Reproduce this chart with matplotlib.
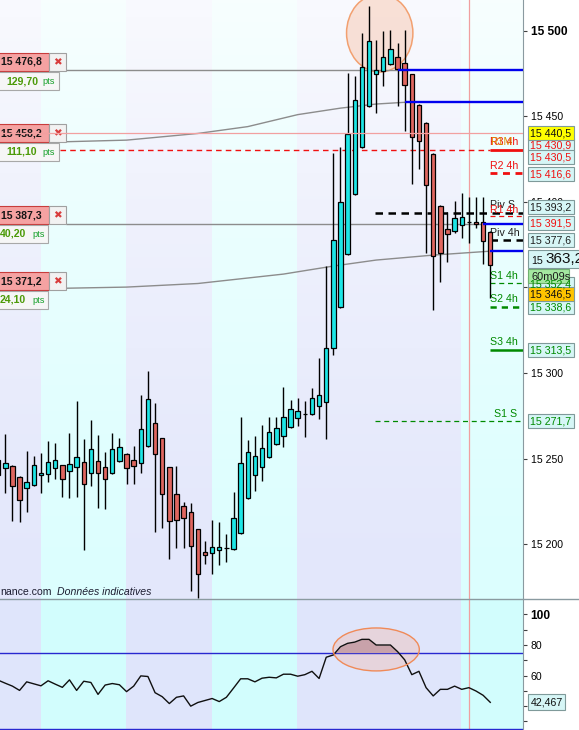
import matplotlib
matplotlib.use("Agg")
import matplotlib.pyplot as plt
import numpy as np
from matplotlib.lines import Line2D
from matplotlib.patches import Ellipse, Rectangle

plt.rcParams["font.family"] = ["Liberation Sans", "DejaVu Sans"]

W, H = 579, 730

# candles, index -1 .. 68
idx = np.arange(-1, 69)
opens = [15249.1, 15244.4, 15245.6, 15239.2, 15232.7, 15234.5, 15240.3, 15240.9, 15244.4, 15246.2,
         15242.7, 15245.0, 15247.9, 15241.5, 15248.5, 15245.0, 15241.5, 15248.5, 15252.6, 15249.1,
         15247.3, 15257.3, 15270.7, 15262.0, 15245.0, 15229.2, 15222.2, 15218.7, 15208.8, 15195.3,
         15194.7, 15196.5, 15197.7, 15197.1, 15206.4, 15226.9, 15240.3, 15245.0, 15250.9, 15258.5,
         15263.1, 15268.4, 15273.6, 15276.0, 15276.0, 15280.7, 15283.0, 15314.6, 15338.5, 15369.5,
         15404.6, 15432.0, 15456.0, 15474.7, 15476.5, 15480.6, 15484.7, 15481.1, 15474.7, 15456.6,
         15446.1, 15428.0, 15397.6, 15384.1, 15382.9, 15386.5, 15388.2, 15388.2, 15388.2, 15382.4]
highs = [15251.4, 15264.3, 15246.0, 15239.5, 15254.4, 15251.4, 15253.2, 15260.2, 15259.0, 15246.5,
         15264.9, 15283.6, 15261.4, 15272.5, 15263.7, 15253.8, 15264.9, 15262.0, 15253.0, 15257.3,
         15287.1, 15301.1, 15282.4, 15262.0, 15245.0, 15245.6, 15224.5, 15224.0, 15209.0, 15201.8,
         15214.0, 15212.9, 15205.8, 15230.4, 15274.2, 15260.8, 15263.1, 15269.6, 15274.2, 15274.2,
         15291.8, 15284.2, 15285.3, 15283.6, 15291.2, 15308.7, 15362.5, 15428.5, 15432.0, 15475.3,
         15473.5, 15498.7, 15514.5, 15494.6, 15499.8, 15500.4, 15492.8, 15500.4, 15475.0, 15457.0,
         15446.5, 15428.5, 15398.0, 15394.1, 15400.5, 15405.2, 15402.8, 15402.8, 15402.8, 15383.0]
lows = [15236.8, 15229.8, 15213.4, 15212.9, 15218.7, 15234.0, 15229.8, 15236.2, 15238.0, 15227.5,
        15226.9, 15227.5, 15196.5, 15233.9, 15221.0, 15220.5, 15241.0, 15248.0, 15235.1, 15235.1,
        15241.5, 15257.0, 15207.0, 15209.4, 15191.2, 15197.7, 15197.7, 15172.5, 15168.4, 15188.3,
        15182.5, 15187.7, 15189.5, 15196.8, 15206.0, 15226.5, 15231.0, 15236.8, 15250.5, 15258.0,
        15256.7, 15268.0, 15269.0, 15262.5, 15275.5, 15273.1, 15261.4, 15310.5, 15338.0, 15369.0,
        15404.0, 15431.5, 15455.5, 15451.9, 15467.7, 15480.0, 15456.0, 15441.4, 15410.4, 15419.2,
        15370.1, 15336.8, 15353.1, 15364.8, 15381.8, 15378.9, 15375.9, 15385.0, 15363.7, 15344.0]
closes = [15240.3, 15247.3, 15233.9, 15225.7, 15236.2, 15246.2, 15241.5, 15247.9, 15249.1, 15238.0,
          15246.8, 15250.9, 15235.1, 15255.5, 15241.5, 15238.0, 15255.5, 15256.7, 15244.4, 15245.6,
          15267.2, 15284.8, 15252.6, 15229.2, 15213.4, 15214.0, 15215.2, 15198.8, 15182.5, 15193.6,
          15198.2, 15198.2, 15197.7, 15215.2, 15247.3, 15253.8, 15251.4, 15256.1, 15265.5, 15267.8,
          15274.2, 15278.9, 15277.7, 15276.0, 15285.3, 15287.1, 15314.6, 15377.7, 15399.9, 15439.6,
          15459.5, 15478.8, 15494.0, 15477.1, 15484.7, 15489.3, 15477.6, 15468.3, 15437.9, 15435.6,
          15409.8, 15368.3, 15370.1, 15381.2, 15390.5, 15391.1, 15388.2, 15387.0, 15377.1, 15363.1]

# oscillator, same indices
osc = [57.0, 55.0, 53.1, 50.3, 55.9, 54.6, 53.3, 56.6, 54.4, 52.3, 57.2, 50.3, 56.3, 55.5, 47.7,
       53.8, 54.8, 54.0, 49.5, 53.1, 59.8, 59.4, 48.8, 46.2, 41.7, 45.8, 46.7, 40.0, 42.4, 43.7,
       45.0, 43.0, 45.8, 51.8, 57.9, 57.9, 55.9, 58.3, 58.9, 58.5, 60.9, 60.9, 59.6, 60.6, 62.8,
       58.1, 72.0, 73.5, 78.9, 81.1, 81.9, 83.7, 83.7, 80.0, 80.0, 80.0, 75.7, 70.3, 60.6, 62.8,
       52.1, 46.7, 51.0, 51.0, 53.1, 51.0, 52.1, 49.9, 47.1, 42.5]

# moving averages (gray curves)
ma_up_idx = [-1, 8, 17, 27, 34, 41, 47, 52, 56]
ma_up = [15434.6, 15435.1, 15436.1, 15440.0, 15444.0, 15451.0, 15454.8, 15457.2, 15458.2]
ma_lo_idx = [-1, 8, 17, 27, 39, 46, 52, 60, 68]
ma_lo = [15349.0, 15349.5, 15350.2, 15352.3, 15357.8, 15362.5, 15366.0, 15368.9, 15371.2]

# measured levels (left labels) and the candle where the blue segment starts
lvl_values = [15476.8, 15458.2, 15387.3, 15371.2]
lvl_text = ["15 476,8", "15 458,2", "15 387,3", "15 371,2"]
lvl_pts = ["129,70", "111,10", "40,20", "24,10"]
lvl_start = [55, 56, 67, 68]

# pivot levels
piv_names = ["R3 4h", "R2 4h", "Piv S", "R1 4h", "Piv 4h", "S1 4h", "S2 4h", "S3 4h", "S1 S"]
piv_values = [15430.5, 15416.6, 15393.5, 15391.5, 15377.6, 15352.4, 15338.6, 15313.5, 15271.7]

price_ticks = [15200, 15250, 15300, 15350, 15400, 15450, 15500]
last_price = 15440.5
osc_last = 42.467

UP, DOWN = "#1de6e6", "#e0665f"
LAV, CYA = "#e3e7fb", "#dcfefe"
GREEN, RED = "#008a00", "#f01010"

fig = plt.figure(figsize=(W / 100, H / 100), dpi=100)
ax = fig.add_axes([0, 131 / H, 523 / W, 599 / H])
axo = fig.add_axes([0, 0, 523 / W, 131 / H])
X0, X1 = -0.743, 72.59
P0, P1 = 15167.9, 15518.0
O0, O1 = 24.4, 110.1

# background bands
edges = [X0, 5.0, 16.9, 29.0, 40.9, 63.9, X1]
for i in range(len(edges) - 1):
    ax.axvspan(edges[i], edges[i + 1], color=LAV if i % 2 == 0 else CYA, lw=0, zorder=0)
    axo.axvspan(edges[i], edges[i + 1], color="#dfe5fb" if i % 2 == 0 else "#d2fdfd", lw=0, zorder=0)
g = np.linspace(0, 1, 256)[:, None]
img = np.ones((256, 1, 4))
img[..., 3] = 0.78 * (1 - g[:, 0:1]) ** 1.3
ax.imshow(img, extent=(X0, X1, P0, P1), aspect="auto", origin="upper", zorder=0.5,
          interpolation="bilinear")

# highlight circles
ax.add_patch(Ellipse((52.5, 15498.7), 9.3, 45.6, facecolor="#f8c8b0", alpha=0.5,
                     edgecolor="none", zorder=1))
ax.add_patch(Ellipse((52.5, 15498.7), 9.3, 45.6, facecolor="none", edgecolor="#f2a070",
                     lw=1.1, zorder=1.1))

# gray lines / curves
ax.plot(ma_up_idx, ma_up, color="#8c8c8c", lw=1.0, zorder=2)
ax.plot(ma_lo_idx, ma_lo, color="#8c8c8c", lw=1.0, zorder=2)
ax.hlines(lvl_values[0], 8.5, lvl_start[0], color="#8c8c8c", lw=1.0, zorder=2)
ax.hlines(lvl_values[2], 8.5, lvl_start[2], color="#8c8c8c", lw=1.0, zorder=2)

# pivot lines
ax.hlines(piv_values[0], 7.7, 68, color=RED, lw=1.0, ls=(0, (4, 3)), zorder=2)
ax.hlines(piv_values[0], 68, X1, color=RED, lw=2.0, zorder=2)
ax.hlines(piv_values[1], 68, X1, color=RED, lw=2.0, ls=(0, (2.5, 2)), zorder=2)
ax.hlines(piv_values[2], 51.8, X1, color="black", lw=1.8, ls=(0, (3, 2.2)), zorder=2)
ax.hlines(piv_values[3], 68, X1, color=RED, lw=0.9, ls=(0, (4, 3)), zorder=2)
ax.hlines(piv_values[4], 68, X1, color="black", lw=1.8, ls=(0, (3, 2.2)), zorder=2)
ax.hlines(piv_values[5], 68, X1, color=GREEN, lw=0.9, ls=(0, (4, 3)), zorder=2)
ax.hlines(piv_values[6], 68, X1, color=GREEN, lw=1.8, ls=(0, (2.5, 2)), zorder=2)
ax.hlines(piv_values[7], 68, X1, color=GREEN, lw=1.8, zorder=2)
ax.hlines(piv_values[8], 51.8, X1, color=GREEN, lw=0.9, ls=(0, (4, 3)), zorder=2)

tk = dict(fontsize=7.7, zorder=3)
ax.text(68, piv_values[0] + 1.5, "R3 4h", color=RED, va="bottom", **tk)
ax.text(68, piv_values[0] + 1.5, "R1M", color="#e08a00", va="bottom", fontsize=7.7, zorder=3)
ax.text(68, piv_values[1] + 1.5, "R2 4h", color=RED, va="bottom", **tk)
ax.text(68, piv_values[2] + 1.5, "Piv S", color="#202020", va="bottom", **tk)
ax.text(68, piv_values[3] + 1.0, "R1 4h", color=RED, va="bottom", **tk)
ax.text(68, piv_values[4] + 1.5, "Piv 4h", color="#202020", va="bottom", **tk)
ax.text(68, piv_values[5] + 1.5, "S1 4h", color=GREEN, va="bottom", **tk)
ax.text(68, piv_values[6] + 1.5, "S2 4h", color=GREEN, va="bottom", **tk)
ax.text(68, piv_values[7] + 1.5, "S3 4h", color=GREEN, va="bottom", **tk)
ax.text(71.75, piv_values[8] + 1.5, "S1 S", color=GREEN, va="bottom", ha="right", **tk)

# candles
o = np.array(opens)
c = np.array(closes)
ax.vlines(idx, lows, highs, color="black", lw=1.0, zorder=3)
cols = [UP if cc >= oo else DOWN for oo, cc in zip(o, c)]
ax.bar(idx, np.abs(c - o), bottom=np.minimum(o, c), width=0.62, color=cols,
       edgecolor="black", linewidth=0.9, zorder=4)

# blue measurement segments
for v, s in zip(lvl_values, lvl_start):
    ax.hlines(v, s, X1, color="#0000ee", lw=1.7, zorder=5)

# crosshair
ax.axhline(last_price, color="#f2a0a0", lw=0.9, zorder=6)
ax.axvline(65, color="#f0a0a0", lw=0.9, zorder=1.2)
axo.axvline(65, color="#f0a0a0", lw=0.9, zorder=1.2)

ax.text(0, 0.012, "nance.com", transform=ax.transAxes, fontsize=7.6, color="#1c1c30",
        va="center", zorder=3)
ax.text(57 / 523, 0.012, "Données indicatives", transform=ax.transAxes, fontsize=7.6,
        style="italic", color="#1c1c30", va="center", zorder=3)

ax.set_xlim(X0, X1)
ax.set_ylim(P0, P1)
ax.set_xticks([])
ax.yaxis.tick_right()
ax.set_yticks(price_ticks)
ax.set_yticklabels([f"{p // 1000} {p % 1000:03d}" for p in price_ticks])
ax.tick_params(axis="y", direction="out", length=3, width=0.8, color="#404040",
               labelsize=7.6, pad=2.5)
ax.get_yticklabels()[-1].set_fontweight("bold")
ax.get_yticklabels()[-1].set_fontsize(8.6)
for s in ["top", "left", "bottom"]:
    ax.spines[s].set_visible(False)
ax.spines["right"].set_color("#8a9aa0")

# oscillator panel
axo.add_patch(Ellipse((52.0, 77.1), 12.1, 28.1, facecolor="#f0c0b8", alpha=0.45,
                      edgecolor="none", zorder=1))
axo.add_patch(Ellipse((52.0, 77.1), 12.1, 28.1, facecolor="none", edgecolor="#f08a58",
                      lw=1.0, zorder=3.5))
axo.axhline(75, color="#2828d0", lw=1.0, zorder=2)
axo.axhline(25, color="#2828d0", lw=1.0, zorder=2)
oa = np.array(osc)
axo.fill_between(idx, oa, 75, where=oa > 75, interpolate=True, color="#c8a2aa", lw=0, zorder=2.5)
axo.plot(idx, osc, color="#101010", lw=1.0, zorder=3)
axo.set_xlim(X0, X1)
axo.set_ylim(O0, O1)
axo.set_xticks([])
axo.yaxis.tick_right()
axo.set_yticks([40, 60, 80, 100])
axo.set_yticklabels(["40", "60", "80", "100"])
axo.set_yticks([30, 50, 70, 90], minor=True)
axo.tick_params(axis="y", which="both", direction="out", length=3, width=0.8, color="#404040",
                labelsize=7.6, pad=2.5)
axo.get_yticklabels()[-1].set_fontweight("bold")
axo.get_yticklabels()[-1].set_fontsize(8.6)
for s in ["top", "left", "bottom"]:
    axo.spines[s].set_visible(False)
axo.spines["right"].set_color("#8a9aa0")

fig.add_artist(Line2D([0, 1], [131 / H, 131 / H], color="#8a9aa0", lw=1.0))


# ---- label boxes in pixel coordinates ----
def rect(a, x0, y0, x1, y1, fc, ec, lw=0.8, z=10):
    a.add_patch(Rectangle((x0 / W, 1 - y1 / H), (x1 - x0) / W, (y1 - y0) / H,
                          transform=fig.transFigure, facecolor=fc, edgecolor=ec,
                          linewidth=lw, zorder=z, clip_on=False))


def ptext(a, x, y, s, z=11, **kw):
    a.text(x / W, 1 - y / H, s, transform=fig.transFigure, zorder=z, clip_on=False,
           va="center", **kw)


# left measurement labels
box_y = [62, 133, 215, 281]
pts_right = [59, 59, 48, 48]
pts_x = [6, 6, 0, 0]
pts_unit_x = [42, 42, 32, 32]
for t, p, cy, pr, px_, ux in zip(lvl_text, lvl_pts, box_y, pts_right, pts_x, pts_unit_x):
    rect(ax, -2, cy - 9, 49, cy + 9, "#f5a2a2", "#c83c3c")
    rect(ax, 49, cy - 9, 66, cy + 9, "#f2f2f2", "#a0a0a0")
    ptext(ax, 1, cy, t, fontsize=7.6, fontweight="bold", color="#151515")
    ptext(ax, 57.5, cy, "✖", fontsize=7.5, color="#d83c3c", ha="center")
    rect(ax, -2, cy + 10, pr, cy + 28, "#f6f6f6", "#a8a8a8")
    ptext(ax, px_, cy + 19, p, fontsize=7.6, fontweight="bold", color="#4c9a08")
    ptext(ax, ux, cy + 19.5, "pts", fontsize=6.6, color="#16a02a")

# the crosshair crosses the left label
ax.add_line(Line2D([0, 66 / W], [1 - 133 / H, 1 - 133 / H], transform=fig.transFigure,
                   color="#f2a0a0", lw=0.9, zorder=12, clip_on=False))

LC = "#d6f6f6"
right_labels = [
    ("15 430,9", 145, LC, RED),
    ("15 440,5", 133, "#ffff00", "#101010"),
    ("15 430,5", 157, LC, RED),
    ("15 416,6", 174, LC, RED),
    ("15 393,2", 207, LC, "#202020"),
    ("15 391,5", 223, LC, RED),
    ("15 377,6", 240, LC, "#202020"),
    ("15 352,4", 284, LC, GREEN),
    ("15 338,6", 307, LC, GREEN),
    ("15 313,5", 350, LC, GREEN),
    ("15 271,7", 421, LC, GREEN),
]
for t, cy, fc, tc in right_labels:
    rect(ax, 528, cy - 7, 574, cy + 7, fc, "#7f9a9a")
    ptext(ax, 530.5, cy + 0.5, t, fontsize=7.7, color=tc)

rect(ax, 528, 269, 569, 283, "#a4e8a0", "#70b070")
ptext(ax, 531, 276.5, "60m09s", fontsize=7.9, color="#1a1a1a")
rect(ax, 528, 287, 574, 301, "#ffc400", "#7f9a9a")
ptext(ax, 530.5, 294.5, "15 346,5", fontsize=7.7, color="#101010")
rect(ax, 528, 250, 585, 268, LC, "#7f9a9a")
ptext(ax, 531, 261, "15", fontsize=7.7, color="#101010")
ptext(ax, 545, 259, "363,2", fontsize=11, color="#101010")

rect(axo, 528, 694, 565, 710, LC, "#7f9a9a")
ptext(axo, 530.5, 702.5, f"{osc_last:.3f}".replace(".", ","), fontsize=7.7, color="#101010")

fig.savefig("out.png", dpi=100, facecolor="white")
